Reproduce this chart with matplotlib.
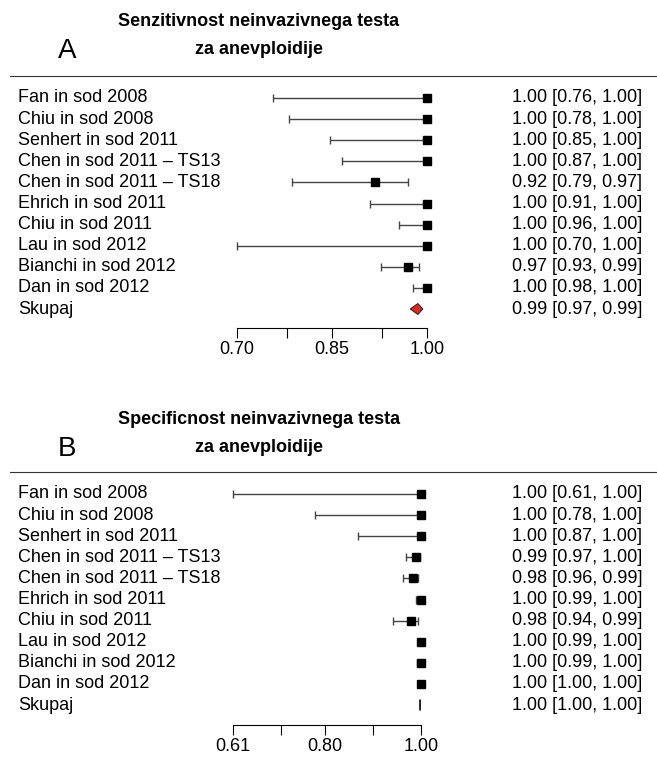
import matplotlib
matplotlib.use("Agg")
import matplotlib.pyplot as plt
from matplotlib.patches import Polygon
from matplotlib.transforms import blended_transform_factory

plt.rcParams['font.family'] = ['Liberation Sans', 'DejaVu Sans']

studies = ['Fan in sod 2008', 'Chiu in sod 2008', 'Senhert in sod 2011',
           'Chen in sod 2011 – TS13', 'Chen in sod 2011 – TS18',
           'Ehrich in sod 2011', 'Chiu in sod 2011', 'Lau in sod 2012',
           'Bianchi in sod 2012', 'Dan in sod 2012']
pooled_label = 'Skupaj'

# senzitivnost (A)
sens_est = [1.00, 1.00, 1.00, 1.00, 0.919, 1.00, 1.00, 1.00, 0.971, 1.00]
sens_lo = [0.758, 0.783, 0.847, 0.867, 0.787, 0.910, 0.957, 0.700, 0.928, 0.979]
sens_hi = [1.00, 1.00, 1.00, 1.00, 0.971, 1.00, 1.00, 1.00, 0.988, 1.00]
sens_pool = (0.986, 0.974, 0.994)  # est, lo, hi
sens_ticks = [0.70, 0.78, 0.85, 0.93, 1.00]
sens_ticklabels = ['0.70', '', '0.85', '', '1.00']

# specificnost (B)
spec_est = [1.00, 1.00, 1.00, 0.990, 0.984, 1.00, 0.979, 1.00, 1.00, 1.00]
spec_lo = [0.61, 0.78, 0.87, 0.968, 0.962, 0.990, 0.942, 0.993, 0.992, 0.998]
spec_hi = [1.00, 1.00, 1.00, 0.998, 0.994, 1.00, 0.994, 1.00, 1.00, 1.00]
spec_pool = (0.998, 0.997, 0.999)
spec_ticks = [0.61, 0.71, 0.80, 0.90, 1.00]
spec_ticklabels = ['0.61', '', '0.80', '', '1.00']

W, H = 657, 757
fig = plt.figure(figsize=(W / 100, H / 100), dpi=100)


def forest(top_px, bottom_px, x0_px, x1_px, est, lo, hi, pool, ticks, ticklabels,
           title1, title2, letter, title_y):
    # axes spanning from x=10 px to the right edge
    left_px = 10
    ax = fig.add_axes([left_px / W, 1 - bottom_px / H, (W - left_px) / W,
                       (bottom_px - top_px) / H])
    scale = (x1_px - x0_px) / (ticks[-1] - ticks[0])
    ax.set_xlim(ticks[0] - (x0_px - left_px) / scale,
                ticks[-1] + (W - x1_px) / scale)
    row0 = top_px + 22
    step = 21.1
    ax.set_ylim((bottom_px - row0) / step, (top_px - row0) / step)

    for s in ['left', 'right']:
        ax.spines[s].set_visible(False)
    ax.spines['top'].set_color('#333333')
    ax.spines['bottom'].set_bounds(ticks[0], ticks[-1])
    ax.set_yticks([])
    ax.set_xticks(ticks)
    ax.set_xticklabels(ticklabels, fontsize=13)
    ax.tick_params(axis='x', length=7, pad=2.5)

    rows = list(range(len(est)))
    for i in rows:
        ax.errorbar(est[i], i, xerr=[[est[i] - lo[i]], [hi[i] - est[i]]],
                    fmt='none', ecolor='#444444', elinewidth=1, capsize=3.2,
                    capthick=1, zorder=2)
    ax.plot(est, rows, 's', color='black', markersize=6, zorder=3)

    py = len(est)
    h = 0.26
    ax.add_patch(Polygon([(pool[1], py), (pool[0], py - h), (pool[2], py),
                          (pool[0], py + h)], closed=True, facecolor='#d62a22',
                         edgecolor='#222222', linewidth=0.7, zorder=3))

    tr = blended_transform_factory(ax.transAxes, ax.transData)
    names = studies + [pooled_label]
    ests = list(est) + [pool[0]]
    los = list(lo) + [pool[1]]
    his = list(hi) + [pool[2]]
    for i, name in enumerate(names):
        ax.text((18 - left_px) / (W - left_px), i, name, transform=tr,
                ha='left', va='center', fontsize=13)
        ax.text((642 - left_px) / (W - left_px), i,
                f'{ests[i]:.2f} [{los[i]:.2f}, {his[i]:.2f}]', transform=tr,
                ha='right', va='center', fontsize=13)

    fig.text(259 / W, 1 - title_y / H, title1, ha='center', va='center',
             fontsize=13, fontweight='bold')
    fig.text(259 / W, 1 - (title_y + 28) / H, title2, ha='center', va='center',
             fontsize=13, fontweight='bold')
    fig.text(67 / W, 1 - (title_y + 30) / H, letter, ha='center', va='center',
             fontsize=20)


forest(76, 328, 236.7, 426.7, sens_est, sens_lo, sens_hi, sens_pool,
       sens_ticks, sens_ticklabels, 'Senzitivnost neinvazivnega testa',
       'za anevploidije', 'A', 21)
forest(472, 725, 233.3, 421, spec_est, spec_lo, spec_hi, spec_pool,
       spec_ticks, spec_ticklabels, 'Specificnost neinvazivnega testa',
       'za anevploidije', 'B', 419)

fig.savefig('out.png', dpi=100)
